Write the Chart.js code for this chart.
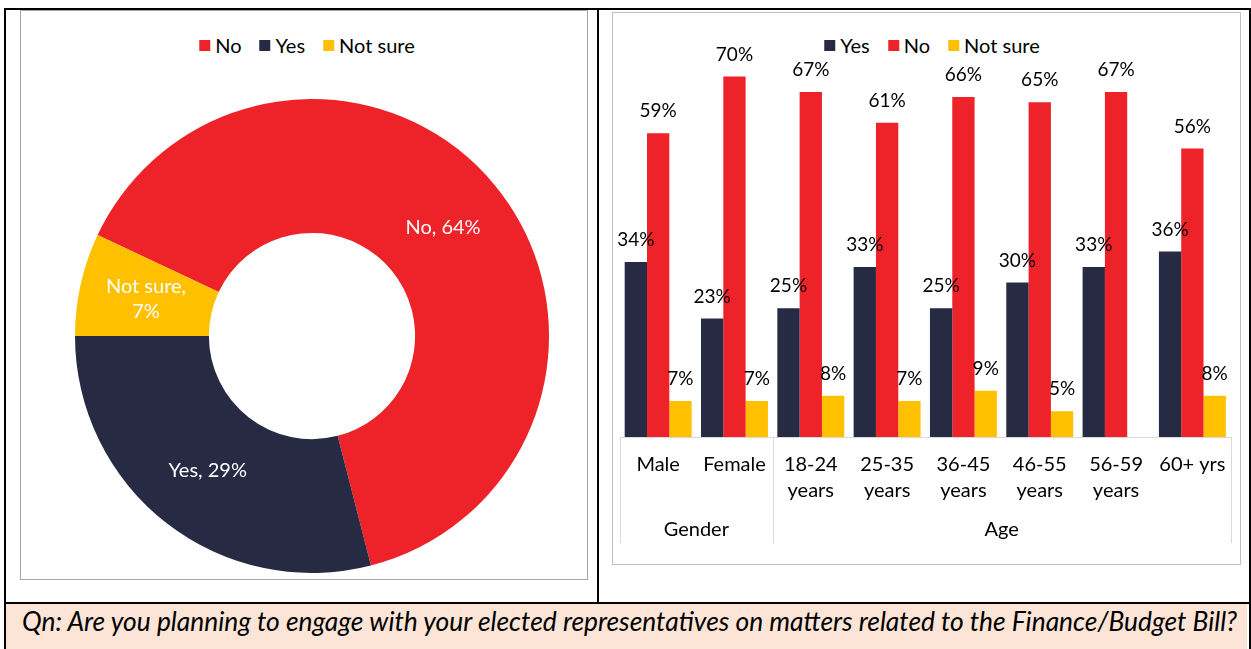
<!DOCTYPE html>
<html>
<head>
<meta charset="utf-8">
<script src="https://cdn.jsdelivr.net/npm/chart.js@4.4.0/dist/chart.umd.min.js"></script>
<style>
body { margin:0; width:1251px; height:649px; background:#fff; position:relative; overflow:hidden; font-family: Lato, sans-serif; }
.abs { position:absolute; }
#frame { left:4px; top:8px; width:1243px; height:660px; border:2px solid #000; border-bottom:none; }
#divider { left:597px; top:8px; width:2px; height:596px; background:#000; }
#hline { left:4px; top:602px; width:1247px; height:2px; background:#000; }
#caption { left:6px; top:604px; width:1241px; height:45px; background:#FCE4D6; }
#capText { position:absolute; left:16px; top:17px; transform:translateY(-50%); font-style:italic; font-size:22px; white-space:nowrap; color:#000; }
#leftBox { left:20px; top:10px; width:566px; height:568px; border:1px solid #a6a6a6; }
#rightBox { left:612px; top:12px; width:627px; height:551px; border:1px solid #bfbfbf; }
.legend { position:absolute; transform:translate(-50%,-50%); display:flex; align-items:center; font-size:20px; white-space:nowrap; }
.legend .item { display:flex; align-items:center; margin-right:18px; }
.legend .item:last-child { margin-right:0; }
.legend .sw { width:11px; height:11px; margin-right:5px; }
</style>
</head>
<body>
<div id="frame" class="abs"></div>
<div id="leftBox" class="abs"></div>
<div id="rightBox" class="abs"></div>
<div id="divider" class="abs"></div>
<div id="hline" class="abs"></div>
<div id="caption" class="abs"><span id="capText">Qn: Are you planning to engage with your elected representatives on matters related to the Finance/Budget Bill?</span></div>

<div id="pieLegend" class="legend" style="left:307px; top:45px;"></div>
<div id="barLegend" class="legend" style="left:932px; top:45px;"></div>

<canvas id="pieChart" class="abs" width="474" height="474" style="left:75px; top:99px;"></canvas>
<canvas id="barChart" class="abs" width="629" height="553" style="left:612px; top:12px;"></canvas>

<script>
// donut: overall answer
var pieLabels = ['No', 'Yes', 'Not sure'];
var pieValues = [64, 29, 7];
var pieColors = ['#EE2229', '#262A43', '#FFC000'];

// bars: by gender and age
var barCategories = [['Male'], ['Female'], ['18-24', 'years'], ['25-35', 'years'], ['36-45', 'years'], ['46-55', 'years'], ['56-59', 'years'], ['60+ yrs']];
var groupLabels = ['Gender', 'Age'];
var groupSizes = [2, 6];
var seriesNames = ['Yes', 'No', 'Not sure'];
var seriesColors = ['#262A43', '#EE2229', '#FFC000'];
var yesValues = [34, 23, 25, 33, 25, 30, 33, 36];
var noValues = [59, 70, 67, 61, 66, 65, 67, 56];
var notSureValues = [7, 7, 8, 7, 9, 5, null, 8];

var fontFamily = 'Lato, sans-serif';

function buildLegend(el, names, colors) {
    names.forEach(function(name, i) {
        var item = document.createElement('div');
        item.className = 'item';
        var sw = document.createElement('div');
        sw.className = 'sw';
        sw.style.background = colors[i];
        var txt = document.createElement('span');
        txt.textContent = name;
        item.appendChild(sw);
        item.appendChild(txt);
        el.appendChild(item);
    });
}
buildLegend(document.getElementById('pieLegend'), pieLabels, pieColors);
buildLegend(document.getElementById('barLegend'), seriesNames, seriesColors);

// stretch the question text to the box width
var capText = document.getElementById('capText');
capText.style.fontSize = (22 * 1216 / capText.offsetWidth) + 'px';

var donutLabelPlugin = {
    id: 'donutLabels',
    afterDatasetsDraw: function(chart) {
        var ctx = chart.ctx;
        var meta = chart.getDatasetMeta(0);
        ctx.save();
        ctx.fillStyle = '#fff';
        ctx.font = '20px ' + fontFamily;
        ctx.textAlign = 'center';
        ctx.textBaseline = 'middle';
        meta.data.forEach(function(arc, i) {
            var pos = arc.tooltipPosition();
            var lines = pieLabels[i].length > 3
                ? [pieLabels[i] + ',', pieValues[i] + '%']
                : [pieLabels[i] + ', ' + pieValues[i] + '%'];
            var lh = 25;
            var y0 = pos.y - (lines.length - 1) * lh / 2;
            lines.forEach(function(line, k) {
                ctx.fillText(line, pos.x, y0 + k * lh);
            });
        });
        ctx.restore();
    }
};

new Chart(document.getElementById('pieChart'), {
    type: 'doughnut',
    data: {
        labels: pieLabels,
        datasets: [{
            data: pieValues,
            backgroundColor: pieColors,
            borderWidth: 0
        }]
    },
    options: {
        responsive: false,
        animation: false,
        rotation: 295.2,
        cutout: '43.5%',
        plugins: { legend: { display: false }, tooltip: { enabled: false } }
    },
    plugins: [donutLabelPlugin]
});

var barLabelPlugin = {
    id: 'barLabels',
    afterDatasetsDraw: function(chart) {
        var ctx = chart.ctx;
        ctx.save();
        ctx.fillStyle = '#000';
        ctx.font = '19px ' + fontFamily;
        ctx.textAlign = 'center';
        ctx.textBaseline = 'middle';
        chart.data.datasets.forEach(function(ds, i) {
            var meta = chart.getDatasetMeta(i);
            meta.data.forEach(function(bar, j) {
                var v = ds.data[j];
                if (v === null || v === undefined) return;
                ctx.fillText(v + '%', bar.x, bar.y - 22);
            });
        });
        ctx.restore();
    }
};

var groupAxisPlugin = {
    id: 'groupAxis',
    afterDraw: function(chart) {
        var ctx = chart.ctx;
        var xs = chart.scales.x;
        var area = chart.chartArea;
        var top = xs.top;
        var bottom = top + 106;
        ctx.save();
        ctx.strokeStyle = '#d9d9d9';
        ctx.lineWidth = 1;
        var start = 0;
        var edges = [area.left];
        groupSizes.forEach(function(n, g) {
            var end = start + n - 1;
            var right = end === barCategories.length - 1 ? area.right
                : (xs.getPixelForValue(end) + xs.getPixelForValue(end + 1)) / 2;
            edges.push(right);
            start = end + 1;
        });
        edges.forEach(function(x) {
            x = Math.round(x) + 0.5;
            ctx.beginPath();
            ctx.moveTo(x, top);
            ctx.lineTo(x, bottom);
            ctx.stroke();
        });
        ctx.fillStyle = '#000';
        ctx.font = '20px ' + fontFamily;
        ctx.textAlign = 'center';
        ctx.textBaseline = 'middle';
        start = 0;
        groupSizes.forEach(function(n, g) {
            var cx = (xs.getPixelForValue(start) + xs.getPixelForValue(start + n - 1)) / 2;
            ctx.fillText(groupLabels[g], cx, top + 93);
            start += n;
        });
        ctx.restore();
    }
};

new Chart(document.getElementById('barChart'), {
    type: 'bar',
    data: {
        labels: barCategories,
        datasets: [
            { label: seriesNames[0], data: yesValues, backgroundColor: seriesColors[0] },
            { label: seriesNames[1], data: noValues, backgroundColor: seriesColors[1] },
            { label: seriesNames[2], data: notSureValues, backgroundColor: seriesColors[2] }
        ]
    },
    options: {
        responsive: false,
        animation: false,
        layout: { padding: { left: 8, right: 9, top: 13, bottom: 0 } },
        datasets: { bar: { categoryPercentage: 0.877, barPercentage: 1 } },
        plugins: { legend: { display: false }, tooltip: { enabled: false } },
        scales: {
            x: {
                grid: { display: false, drawTicks: false },
                border: { display: true, color: '#d9d9d9', width: 1 },
                ticks: {
                    color: '#000',
                    font: { family: fontFamily, size: 20, lineHeight: 1.3 },
                    padding: 15,
                    maxRotation: 0,
                    autoSkip: false
                },
                afterFit: function(scale) { scale.height = 128; }
            },
            y: { display: false, min: 0, max: 80 }
        }
    },
    plugins: [barLabelPlugin, groupAxisPlugin]
});
</script>
</body>
</html>
